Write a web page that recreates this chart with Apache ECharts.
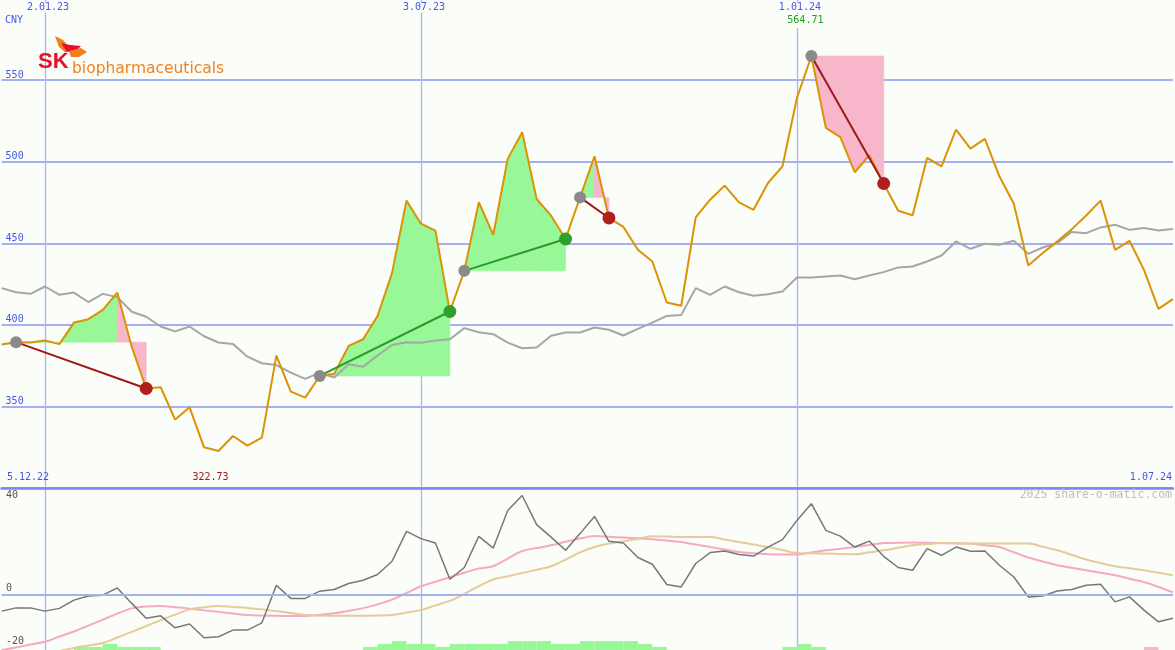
<!DOCTYPE html>
<html><head><meta charset="utf-8">
<script src="https://cdn.jsdelivr.net/npm/echarts@6/dist/echarts.min.js"></script>
<style>html,body{margin:0;padding:0;background:#fbfdf8}#c{width:1175px;height:650px}</style>
</head><body><div id="c"></div>
<script>
// ---- data ----
const dates = ['12.12.22','19.12.22','26.12.22','2.01.23','9.01.23','16.01.23','23.01.23','30.01.23','6.02.23','13.02.23',
'20.02.23','27.02.23','6.03.23','13.03.23','20.03.23','27.03.23','3.04.23','10.04.23','17.04.23','24.04.23',
'1.05.23','8.05.23','15.05.23','22.05.23','29.05.23','5.06.23','12.06.23','19.06.23','26.06.23','3.07.23',
'10.07.23','17.07.23','24.07.23','31.07.23','7.08.23','14.08.23','21.08.23','28.08.23','4.09.23','11.09.23',
'18.09.23','25.09.23','2.10.23','9.10.23','16.10.23','23.10.23','30.10.23','6.11.23','13.11.23','20.11.23',
'27.11.23','4.12.23','11.12.23','18.12.23','25.12.23','1.01.24','8.01.24','15.01.24','22.01.24','29.01.24',
'5.02.24','12.02.24','19.02.24','26.02.24','4.03.24','11.03.24','18.03.24','25.03.24','1.04.24','8.04.24',
'15.04.24','22.04.24','29.04.24','6.05.24','13.05.24','20.05.24','27.05.24','3.06.24','10.06.24','17.06.24',
'24.06.24','1.07.24'];
const markDates = ['2.01.23','3.07.23','1.01.24'];
const periodStart = '5.12.22', periodEnd = '1.07.24';
const currency = 'CNY';

const price = [388,389.4,389.2,390.4,388.2,401.4,403.5,409.2,419.8,386.5,
361.0,361.8,342.0,349.5,325.0,322.73,331.9,326.0,330.9,381.2,
359.1,355.4,368.7,370.0,387.1,391.2,405.5,431.7,476.1,462.0,
457.7,408.2,433.1,475.1,455.2,501.7,518.0,477.1,466.9,452.6,
478.1,503.3,465.5,460.0,446.0,438.8,413.7,411.7,465.9,476.7,
485.3,475.0,470.5,486.9,497.1,539.0,564.71,520.7,515.0,493.5,
503.9,486.6,469.9,467.2,502.3,497.1,519.6,508.0,513.9,491.0,
474.2,436.4,444.0,451.0,458.5,467.0,476.1,446.0,451.5,433.7,
409.8,415.8];

const avgLine = [422.5,420,419,423.5,418.4,419.8,414,419,417,408,
405,399,396,399,393,389.2,388.3,380.5,376.5,375.4,
370.7,366.9,370.7,367.7,375.9,374.4,381.2,387.7,389.4,389.1,
390.4,391.2,398,395.5,394.3,389.1,385.7,386.1,393.3,395.3,
395.3,398.4,397,393.5,397.5,401.4,405.5,406.1,422.5,418.4,
423.5,420,417.8,418.8,420.4,429,429,429.6,430.2,428,
430.2,432.3,435.2,435.8,438.8,442.5,451.1,446.6,449.7,449.1,
451.5,443.5,447.4,450.1,456.9,456.2,459.7,461.3,458.2,459.3,
457.8,458.7];

const osc = [-6.4,-5.1,-5.1,-6.4,-5.3,-2,-0.3,0,2.9,-3.3,
-9.3,-8.3,-13.1,-11.6,-17.1,-16.7,-14,-14,-11.1,4,
-1.3,-1.3,1.6,2.3,4.7,6,8.3,13.6,25.6,22.7,
20.9,6.4,11.1,23.6,18.9,34,40,28.3,23.3,18,
24.7,31.6,21.6,20.9,15.1,12.4,4.3,3.3,12.7,17.1,
17.7,16.3,15.7,19.3,22.3,30,36.7,26,23.7,19.3,
21.7,15.6,11.1,10,18.7,16,19.3,17.6,17.7,12,
7.3,-0.7,-0.3,1.7,2.3,4,4.4,-2.7,-0.7,-6,
-10.7,-9.3];

const signalFast = [-22,-21,-19.8,-18.7,-16.6,-14.6,-12.2,-9.8,-7.4,-5.3,
-4.5,-4.3,-4.8,-5.4,-6.1,-6.7,-7.4,-8,-8.2,-8.3,
-8.4,-8.4,-7.9,-7.3,-6.3,-5.2,-3.7,-1.8,0.9,3.6,
5.4,7.2,9,10.7,11.6,14.7,17.7,18.9,20,21.4,
22.7,23.7,23.4,23.1,22.8,22.4,21.9,21.3,20.3,19.3,
18.3,17.3,16.8,16.4,16.3,16.3,17.1,18,18.6,19.3,
20.1,20.9,21,21.1,21,20.9,20.8,20.7,20,19.3,
17.2,15.1,13.5,12,11,10,9,8,6.6,5.3,
3.3,1.1];

const signalSlow = [-28,-27,-25.5,-24,-22.4,-21.2,-20.2,-19.2,-17,-14.7,
-12.4,-10,-7.8,-5.7,-4.8,-4.3,-4.7,-5.1,-5.7,-6.4,
-7.2,-8,-8.2,-8.3,-8.3,-8.3,-8.2,-8,-7,-6,
-4.1,-2.3,0.5,3.6,6.3,7.6,8.9,10.2,11.6,14.3,
17.2,19.3,20.7,21.6,22.6,23.6,23.5,23.3,23.3,23.3,
22.3,21.3,20.3,19.3,18.1,16.9,16.8,16.7,16.5,16.4,
17.2,18,19,20,20.5,20.9,20.8,20.7,20.7,20.7,
20.7,20.7,19.4,18,16.2,14.3,12.9,11.6,10.8,10,
9,8];

const hist = [0,0,0,0,0,1,1,2,1,1,
1,0,0,0,0,0,0,0,0,0,
0,0,0,0,0,1,2,3,2,2,
1,2,2,2,2,3,3,3,2,2,
3,3,3,3,2,1,0,0,0,0,
0,0,0,0,1,2,1,0,0,0,
0,0,0,0,0,0,0,0,0,0,
0,0,0,0,0,0,0,0,0,-1,
0,0];

// trades: [start index, end index]
const trades = [[1,10],[22,31],[32,39],[40,42],[56,61]];

// ---- build helpers ----
const fillData = [];
trades.forEach(function(t, ti){
  for (let i = t[0]; i < t[1]; i++) fillData.push([i, price[i], ti]);
});
const tradeData = trades.map(function(t){ return [t[0], price[t[0]], t[1], price[t[1]]]; });
const histData = [];
hist.forEach(function(h, i){ if (h !== 0) histData.push([i, h]); });

const GREEN_FILL = '#98f898', PINK_FILL = '#f8b6cb';
const BG = '#fbfdf8';
const MONO = '"DejaVu Sans Mono", monospace';
const BLUE_TXT = '#4557e4';

function fillItem(params, api){
  const i = api.value(0), ti = api.value(2);
  const t = trades[ti];
  const base = price[t[0]];
  const win = price[t[1]] > base;
  let peak = t[0];
  for (let k = t[0]; k <= t[1]; k++) if (price[k] > price[peak]) peak = k;
  const green = win || i < peak;
  const a = api.coord([i, price[i]]), b = api.coord([i+1, price[i+1]]);
  const b0 = api.coord([i+1, base]), a0 = api.coord([i, base]);
  return {type:'polygon', shape:{points:[a,b,b0,a0]}, style:{fill: green ? GREEN_FILL : PINK_FILL, stroke: green ? GREEN_FILL : PINK_FILL, lineWidth: 0.6}};
}
function tradeItem(params, api){
  const s = api.coord([api.value(0), api.value(1)]);
  const e = api.coord([api.value(2), api.value(3)]);
  const win = api.value(3) > api.value(1);
  return {type:'group', children:[
    {type:'line', shape:{x1:s[0],y1:s[1],x2:e[0],y2:e[1]}, style:{stroke: win ? '#2a9a2a' : '#9e1a1a', lineWidth:2}},
    {type:'circle', shape:{cx:s[0],cy:s[1],r:6}, style:{fill:'#8a8a8a'}},
    {type:'circle', shape:{cx:e[0],cy:e[1],r:6.5}, style:{fill: win ? '#2ea02e' : '#b01e1e'}}
  ]};
}
function histItem(params, api){
  const i = api.value(0), h = api.value(1);
  const a = api.coord([i, Math.abs(h)]);
  const b = api.coord([i+1, 0]);
  return {type:'rect', shape:{x:a[0], y:a[1], width:b[0]-a[0], height:b[1]-a[1]}, style:{fill: h > 0 ? GREEN_FILL : PINK_FILL}};
}

const isMark = function(idx, val){ return markDates.indexOf(val) >= 0 || markDates.indexOf(dates[idx]) >= 0; };

const chart = echarts.init(document.getElementById('c'), null, {renderer:'canvas'});
let iMax = 0, iMin = 0;
price.forEach(function(v,i){ if (v > price[iMax]) iMax = i; if (v < price[iMin]) iMin = i; });

chart.setOption({
  animation: false,
  backgroundColor: BG,
  textStyle: {fontFamily: MONO},
  grid: [
    {left: 1.6, right: 2.1, top: -1.6, height: 489.7, outerBoundsMode: 'none', containLabel: false},
    {left: 1.6, right: 2.1, top: 488, height: 162, outerBoundsMode: 'none', containLabel: false}
  ],
  xAxis: [
    {type:'category', gridIndex:0, data: dates, boundaryGap:false, position:'top',
     axisLine:{show:false}, axisTick:{show:false},
     axisLabel:{inside:true, interval: isMark, margin:4, color:BLUE_TXT, fontSize:10, fontFamily: MONO,
                padding:[0,0,0,6], backgroundColor: BG, hideOverlap:false},
     splitLine:{show:true, interval: isMark, lineStyle:{color:'#a9b7f8', width:1.3}}},
    {type:'category', gridIndex:1, data: dates, boundaryGap:false, position:'top',
     axisLine:{show:true, onZero:false, lineStyle:{color:'#7888ee', width:2.5}}, axisTick:{show:false},
     axisLabel:{show:false},
     splitLine:{show:true, interval: isMark, lineStyle:{color:'#a9b7f8', width:1.3}}}
  ],
  yAxis: [
    {type:'value', gridIndex:0, min:300, max:600, interval:50,
     axisLine:{show:false}, axisTick:{show:false},
     axisLabel:{inside:true, margin:4, color:BLUE_TXT, fontSize:10, fontFamily: MONO, verticalAlign:'bottom',
                showMinLabel:false, showMaxLabel:false},
     splitLine:{show:true, lineStyle:{color:'#a4b0f2', width:2}}},
    {type:'value', gridIndex:1, min:-22, max:43,
     axisLine:{show:false}, axisTick:{show:false}, axisLabel:{show:false}, splitLine:{show:false}},
    {type:'value', gridIndex:1, min:0, max:54,
     axisLine:{show:false}, axisTick:{show:false}, axisLabel:{show:false}, splitLine:{show:false}}
  ],
  series: [
    {type:'custom', xAxisIndex:0, yAxisIndex:0, data: fillData, renderItem: fillItem, encode:{x:0,y:1}, z:1, silent:true, clip:true},
    {type:'line', xAxisIndex:0, yAxisIndex:0, data: avgLine, symbol:'none', lineStyle:{color:'#a6a6a6', width:2}, z:2, silent:true},
    {type:'line', xAxisIndex:0, yAxisIndex:0, data: price, symbol:'none', lineStyle:{color:'#db9305', width:2}, z:3, silent:true},
    {type:'custom', xAxisIndex:0, yAxisIndex:0, data: tradeData, renderItem: tradeItem, encode:{x:0,y:1}, z:4, silent:true},
    {type:'custom', xAxisIndex:1, yAxisIndex:2, data: histData, renderItem: histItem, encode:{x:0,y:1}, z:1, silent:true, clip:true},
    {type:'line', xAxisIndex:1, yAxisIndex:1, data: signalFast, symbol:'none', smooth:0.35, lineStyle:{color:'#f6a9c2', width:2}, z:2, silent:true},
    {type:'line', xAxisIndex:1, yAxisIndex:1, data: signalSlow, symbol:'none', smooth:0.35, lineStyle:{color:'#e5cb98', width:2}, z:2, silent:true},
    {type:'line', xAxisIndex:1, yAxisIndex:1, data: osc, symbol:'none', lineStyle:{color:'#777777', width:1.5}, z:3, silent:true,
     markLine:{silent:true, symbol:'none', label:{show:false}, lineStyle:{color:'#a4b0f2', width:2, type:'solid'}, data:[{yAxis:0}]}}
  ]
});

const pMax = chart.convertToPixel({xAxisIndex:0, yAxisIndex:0}, [iMax, price[iMax]]);
const pMin = chart.convertToPixel({xAxisIndex:0, yAxisIndex:0}, [iMin, price[iMin]]);
function txt(x, y, s, color, extra){
  return {type:'text', x:x, y:y, z:50, style:Object.assign({text:s, fill:color, font:'10px ' + MONO, textVerticalAlign:'top'}, extra||{})};
}
chart.setOption({graphic: [
  txt(5, 15, currency, BLUE_TXT),
  txt(7, 472, periodStart, BLUE_TXT),
  txt(1172, 472, periodEnd, BLUE_TXT, {textAlign:'right'}),
  txt(pMin[0]-8, 472, price[iMin].toFixed(2), '#a01818', {textAlign:'center'}),
  txt(pMax[0]-6, 14, price[iMax].toFixed(2), '#20a020', {textAlign:'center', backgroundColor:BG, padding:[1,1,3,1]}),
  txt(6, 490, '40', '#555555'),
  txt(6, 583, '0', '#555555'),
  txt(6, 636, '-20', '#555555'),
  {type:'text', x:1172, y:489, z:50, style:{text:'2025 share-o-matic.com', fill:'#bdbdbd', font:'11.5px ' + MONO, textAlign:'right', textVerticalAlign:'top'}},
  // logo
  {type:'polygon', z:60, shape:{points:[[55,36],[63,40],[69,47],[66,53],[59,47]]}, style:{fill:'#f27e1c'}},
  {type:'polygon', z:60, shape:{points:[[61,43],[70,45],[81,46],[76,51],[67,52]]}, style:{fill:'#e5112c'}},
  {type:'polygon', z:60, shape:{points:[[69,51],[81,48],[87,52],[79,57],[71,57]]}, style:{fill:'#f27e1c'}},
  {type:'text', x:38, y:73, z:60, style:{text:'SK', fill:'#e5112c', font:'bold 22px "Liberation Sans", Arial, sans-serif', textVerticalAlign:'bottom'}},
  {type:'text', x:72, y:77, z:60, style:{text:'biopharmaceuticals', fill:'#f0821e', font:'15.5px "DejaVu Sans", sans-serif', textVerticalAlign:'bottom'}}
]});
</script>
</body></html>
